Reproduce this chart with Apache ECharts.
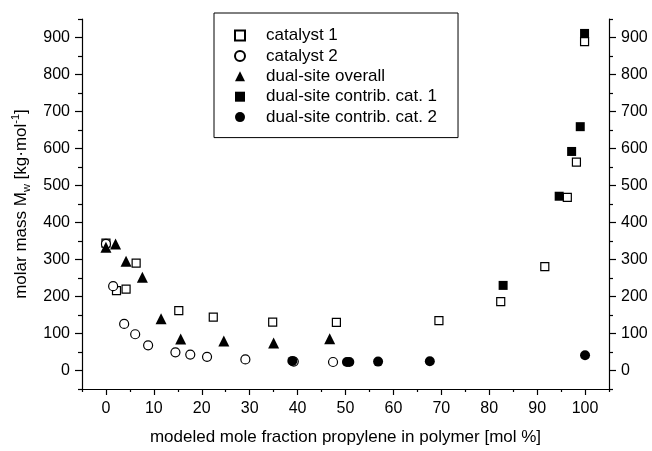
<!DOCTYPE html>
<html>
<head>
<meta charset="utf-8">
<script src="https://cdn.jsdelivr.net/npm/echarts@6/dist/echarts.min.js"></script>
<style>html,body{margin:0;padding:0;background:#fff}#c{width:652px;height:451px}</style>
</head>
<body>
<div id="c"></div>
<script>
// ---- data ----
const cat1X = [0, 2.2, 4.2, 6.3, 15.2, 22.4, 34.8, 48.1, 69.5, 82.4, 91.6, 96.3, 98.2, 99.9];
const cat1Y = [344, 216, 220, 290, 162, 144, 131, 130, 135, 186, 281, 468, 563, 889];
const cat2X = [0, 1.5, 3.8, 6.1, 8.8, 14.5, 17.6, 21.1, 29.1, 39.2, 47.4];
const cat2Y = [342, 228, 126, 98, 68, 49, 43, 37, 30, 24, 23];
const dualX = [0, 2.0, 4.2, 7.6, 11.5, 15.6, 24.6, 35.0, 46.7];
const dualY = [333, 342, 295, 252, 140, 85, 80, 74, 86];
const contrib1X = [82.9, 94.6, 97.2, 99.0, 99.9];
const contrib1Y = [230, 471, 592, 659, 911];
const contrib2X = [38.9, 50.3, 50.8, 56.8, 67.6, 100];
const contrib2Y = [26, 23, 23, 24, 25, 41];

const seriesNames = ['catalyst 1', 'catalyst 2', 'dual-site overall', 'dual-site contrib. cat. 1', 'dual-site contrib. cat. 2'];
const xMajor = [0, 10, 20, 30, 40, 50, 60, 70, 80, 90, 100];
const xMinor = [-5, 5, 15, 25, 35, 45, 55, 65, 75, 85, 95, 105];
const yMajor = [0, 100, 200, 300, 400, 500, 600, 700, 800, 900];
const yMinor = [-50, 50, 150, 250, 350, 450, 550, 650, 750, 850, 950];

const xTitle = 'modeled mole fraction propylene in polymer [mol %]';
const yTitle = 'molar mass M{sub|w} [kg·mol{sup|-1}]';

const FONT = '"Liberation Sans", Arial, sans-serif';
const FS = 16;
const pair = (xs, ys) => xs.map((x, i) => [x, ys[i]]);

const chart = echarts.init(document.getElementById('c'), null, {renderer: 'canvas'});
const lineStyle = {color: '#000', width: 1.2};
const labelStyle = {color: '#000', fontSize: FS, fontFamily: FONT};

function xAxisMajor() {
  return {
    type: 'value', min: -5, max: 105, position: 'bottom', gridIndex: 0,
    axisLine: {show: true, onZero: false, lineStyle},
    axisTick: {show: true, customValues: xMajor, length: 6, lineStyle},
    axisLabel: Object.assign({show: true, customValues: xMajor, margin: 12}, labelStyle),
    splitLine: {show: false},
    name: xTitle, nameLocation: 'middle', nameGap: 40,
    nameTextStyle: {color: '#000', fontSize: 17, fontFamily: FONT}
  };
}
function xAxisMinor() {
  return {
    type: 'value', min: -5, max: 105, position: 'bottom', gridIndex: 0, offset: 0,
    axisLine: {show: false, onZero: false},
    axisTick: {show: true, customValues: xMinor, length: 3, lineStyle},
    axisLabel: {show: false},
    splitLine: {show: false}
  };
}
function yAxisMajor(pos, withName) {
  const a = {
    type: 'value', min: -50, max: 950, position: pos, gridIndex: 0,
    axisLine: {show: true, onZero: false, lineStyle},
    axisTick: {show: true, customValues: yMajor, length: 7, lineStyle},
    axisLabel: Object.assign({show: true, customValues: yMajor, margin: 12}, labelStyle),
    splitLine: {show: false}
  };
  if (withName) {
    a.name = yTitle;
    a.nameLocation = 'middle';
    a.nameGap = 47;
    a.nameTextStyle = {
      color: '#000', fontSize: 17, fontFamily: FONT, lineHeight: 22,
      rich: {
        sub: {fontSize: 11, fontFamily: FONT, color: '#000', verticalAlign: 'bottom'},
        sup: {fontSize: 11, fontFamily: FONT, color: '#000', verticalAlign: 'top'}
      }
    };
  }
  return a;
}
function yAxisMinor(pos) {
  return {
    type: 'value', min: -50, max: 950, position: pos, gridIndex: 0, offset: 0,
    axisLine: {show: false, onZero: false},
    axisTick: {show: true, customValues: yMinor, length: 4, lineStyle},
    axisLabel: {show: false},
    splitLine: {show: false}
  };
}

const openStyle = {color: '#fff', borderColor: '#000', borderWidth: 1.2, opacity: 1};
const fillStyle = {color: '#000', borderColor: '#000', borderWidth: 0, opacity: 1};

function sc(name, data, symbol, size, style) {
  return {
    name, type: 'scatter', xAxisIndex: 0, yAxisIndex: 0,
    data, symbol, symbolSize: size, itemStyle: style,
    emphasis: {disabled: true}, animation: false
  };
}

chart.setOption({
  animation: false,
  backgroundColor: '#fff',
  grid: {left: 82, right: 43, top: 19, bottom: 62, containLabel: false},
  xAxis: [xAxisMajor(), xAxisMinor()],
  yAxis: [yAxisMajor('left', true), yAxisMinor('left'), yAxisMajor('right', false), yAxisMinor('right')],
  legend: {
    show: true, orient: 'vertical', left: 214, top: 13,
    padding: [14, 21, 12, 20],
    itemWidth: 10, itemHeight: 10, itemGap: 3.4,
    borderColor: '#000', borderWidth: 1, backgroundColor: '#fff',
    textStyle: {color: '#000', fontSize: 17, fontFamily: FONT, padding: [0, 0, 0, 16]},
    data: seriesNames,
    selectedMode: false
  },
  series: [
    sc(seriesNames[0], pair(cat1X, cat1Y), 'rect', 8, openStyle),
    sc(seriesNames[1], pair(cat2X, cat2Y), 'circle', 9, openStyle),
    sc(seriesNames[2], pair(dualX, dualY), 'triangle', 11, fillStyle),
    sc(seriesNames[3], pair(contrib1X, contrib1Y), 'rect', 9, fillStyle),
    sc(seriesNames[4], pair(contrib2X, contrib2Y), 'circle', 10, fillStyle)
  ]
});
</script>
</body>
</html>
